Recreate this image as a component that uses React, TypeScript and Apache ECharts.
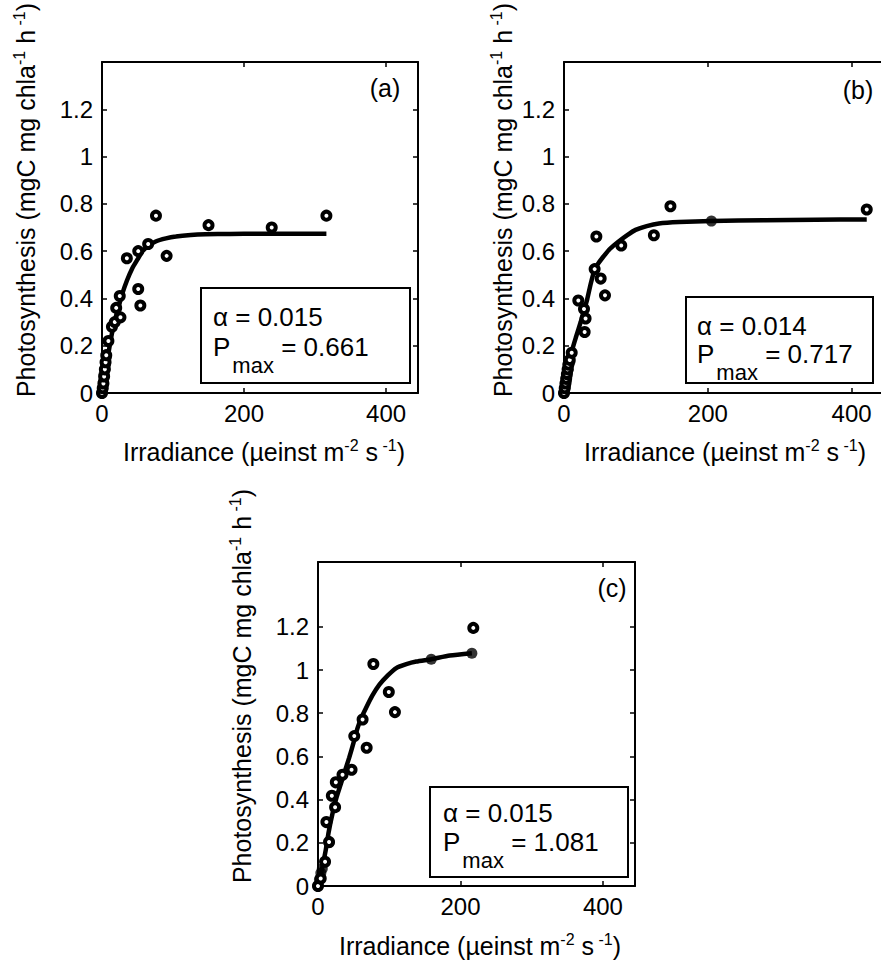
import React, { useEffect, useRef } from "react";
import * as echarts from "echarts";

const FF = '"Liberation Sans", Arial, Helvetica, sans-serif';

// ---------- data ----------
const xTickValues = [0, 200, 400];
const yTickValues = [0, 0.2, 0.4, 0.6, 0.8, 1, 1.2];
const xMax = 445;
const yMaxes = [1.4, 1.4, 1.5];
const panelLabels = ["(a)", "(b)", "(c)"];
const alphaValues = ["0.015", "0.014", "0.015"];
const pmaxValues = ["0.661", "0.717", "1.081"];

// Panel (a)
const aObsI = [0, 1, 2, 3, 4, 5, 6, 9, 14, 18, 20, 25, 26, 35, 51, 51, 54, 65, 76, 91, 150, 239, 316];
const aObsP = [0, 0.02, 0.04, 0.07, 0.1, 0.13, 0.16, 0.22, 0.28, 0.3, 0.36, 0.41, 0.32, 0.57, 0.6, 0.44, 0.37, 0.63, 0.75, 0.58, 0.71, 0.7, 0.75];
const aFitI = [0, 3, 7.5, 12, 17, 23, 28.6, 35, 42.7, 50, 56.8, 65, 75.6, 90, 104, 125, 146, 180, 220, 270, 316];
const aFitP = [0, 0.06, 0.14, 0.22, 0.295, 0.36, 0.42, 0.475, 0.528, 0.565, 0.599, 0.622, 0.641, 0.654, 0.662, 0.668, 0.671, 0.673, 0.674, 0.674, 0.674];
const aDotI = [0, 1, 2, 3, 4, 5, 6];
const aDotP = [0, 0.02, 0.05, 0.08, 0.1, 0.12, 0.15];

// Panel (b)
const bObsI = [0, 1, 2, 3, 4, 5, 6, 8, 10.7, 19.9, 27.8, 30, 28.7, 42.6, 45, 51, 57, 79.6, 125, 148, 421];
const bObsP = [0, 0.02, 0.04, 0.06, 0.08, 0.1, 0.12, 0.14, 0.17, 0.391, 0.355, 0.315, 0.258, 0.524, 0.662, 0.484, 0.413, 0.624, 0.667, 0.79, 0.776];
const bFitI = [0, 5, 11.6, 17, 23, 28, 32.4, 37, 41.7, 47, 53, 64, 76, 88, 99.5, 115, 132, 160, 205, 280, 350, 421];
const bFitP = [0, 0.08, 0.184, 0.24, 0.298, 0.35, 0.398, 0.46, 0.513, 0.545, 0.57, 0.61, 0.641, 0.668, 0.69, 0.706, 0.717, 0.723, 0.727, 0.731, 0.733, 0.734];
const bDotI = [0, 1, 2, 3, 4, 5, 6, 8, 205];
const bDotP = [0, 0.02, 0.03, 0.05, 0.07, 0.09, 0.1, 0.13, 0.727];

// Panel (c)
const cObsI = [0, 3.8, 9.9, 11.8, 15.5, 19.4, 24, 25, 34.4, 47.1, 50.9, 62.6, 68.3, 77.7, 99.4, 108, 218];
const cObsP = [0, 0.035, 0.112, 0.296, 0.204, 0.418, 0.365, 0.48, 0.515, 0.538, 0.694, 0.771, 0.64, 1.028, 0.898, 0.805, 1.195];
const cFitI = [0, 5, 10.8, 15, 20.3, 26, 32, 38, 43.8, 50, 55.6, 61, 67.4, 76, 86.2, 98, 109.8, 124, 138, 159, 185, 216];
const cFitP = [0, 0.07, 0.165, 0.25, 0.334, 0.41, 0.472, 0.535, 0.594, 0.665, 0.732, 0.78, 0.824, 0.88, 0.932, 0.975, 1.009, 1.027, 1.039, 1.05, 1.067, 1.078];
const cDotI = [0, 2, 4, 6, 15.5, 159, 216];
const cDotP = [0, 0.03, 0.06, 0.08, 0.2, 1.05, 1.078];

const zip = (xs: number[], ys: number[]) => xs.map((x, i) => [x, ys[i]]);

const panels = [
  { obs: zip(aObsI, aObsP), fit: zip(aFitI, aFitP), dots: zip(aDotI, aDotP) },
  { obs: zip(bObsI, bObsP), fit: zip(bFitI, bFitP), dots: zip(bDotI, bDotP) },
  { obs: zip(cObsI, cObsP), fit: zip(cFitI, cFitP), dots: zip(cDotI, cDotP) },
];

// ---------- layout ----------
const grids = [
  { left: 102, top: 62, width: 316, height: 331 },
  { left: 564, top: 62, width: 320, height: 331 },
  { left: 318, top: 562, width: 317, height: 324 },
];
// panel (b)'s right border lies beyond the page edge in the reference
const showRightBorder = [true, false, true];
const yTitlePos = [
  [26, 200],
  [503, 200],
  [242, 686],
];
const xTitlePos = [
  [264, 452],
  [725, 452],
  [480, 946],
];
const panelLabelPos = [
  [385, 88],
  [858, 90],
  [612, 588],
];
const legendBoxes = [
  { x: 201, y: 288, w: 209, h: 95, tx: 213, ya: 317, yp: 347, ys: 365 },
  { x: 686, y: 297, w: 187, h: 86, tx: 697, ya: 326, yp: 354, ys: 372 },
  { x: 430, y: 787, w: 198, h: 90, tx: 443, ya: 813, yp: 842, ys: 860 },
];

function measure(text: string, size: number) {
  const ctx = document.createElement("canvas").getContext("2d");
  if (!ctx) return text.length * size * 0.55;
  ctx.font = `${size}px "Liberation Sans"`;
  return ctx.measureText(text).width;
}

const titleRich = {
  n: { fontSize: 25, lineHeight: 30, fontFamily: FF, fill: "#000" },
  s: { fontSize: 16, lineHeight: 18, fontFamily: FF, fill: "#000", verticalAlign: "top" },
};

export default function App() {
  const ref = useRef<HTMLDivElement>(null);

  useEffect(() => {
    document.body.style.margin = "0";
    if (!ref.current) return;
    const chart = echarts.init(ref.current, undefined, { renderer: "svg" });

    const xAxis: any[] = [];
    const yAxis: any[] = [];
    const series: any[] = [];
    const graphic: any[] = [];

    grids.forEach((g, i) => {
      const baseLine = { show: true, onZero: false, lineStyle: { color: "#000", width: 2 } };
      const tickX = { show: true, inside: true, length: 5, lineStyle: { color: "#000", width: 1.5 }, customValues: xTickValues };
      const tickY = { show: true, inside: true, length: 5, lineStyle: { color: "#000", width: 1.5 }, customValues: yTickValues };
      xAxis.push({
        type: "value", gridIndex: i, position: "bottom", min: 0, max: xMax, interval: 200,
        axisLine: baseLine, axisTick: tickX, splitLine: { show: false },
        axisLabel: { show: true, color: "#000", fontSize: 24, fontFamily: FF, margin: 8, customValues: xTickValues },
      });
      xAxis.push({
        type: "value", gridIndex: i, position: "top", min: 0, max: xMax, interval: 200,
        axisLine: baseLine, axisTick: tickX, splitLine: { show: false }, axisLabel: { show: false },
      });
      yAxis.push({
        type: "value", gridIndex: i, position: "left", min: 0, max: yMaxes[i], interval: 0.2,
        axisLine: baseLine, axisTick: tickY, splitLine: { show: false },
        axisLabel: { show: true, color: "#000", fontSize: 24, fontFamily: FF, margin: 9, customValues: yTickValues },
      });
      yAxis.push({
        type: "value", gridIndex: i, position: "right", min: 0, max: yMaxes[i], interval: 0.2,
        axisLine: { ...baseLine, show: showRightBorder[i] },
        axisTick: { ...tickY, show: showRightBorder[i] },
        splitLine: { show: false }, axisLabel: { show: false },
      });

      const p = panels[i];
      series.push({
        type: "line", xAxisIndex: 2 * i, yAxisIndex: 2 * i, data: p.fit,
        showSymbol: false, symbol: "none", smooth: 0.2, clip: false,
        lineStyle: { color: "#000", width: 4.5 }, z: 2,
      });
      series.push({
        type: "scatter", xAxisIndex: 2 * i, yAxisIndex: 2 * i, data: p.dots,
        symbol: "circle", symbolSize: 11, clip: false,
        itemStyle: { color: "#000" }, z: 3,
      });
      series.push({
        type: "scatter", xAxisIndex: 2 * i, yAxisIndex: 2 * i, data: p.obs,
        symbol: "circle", symbolSize: 8, clip: false,
        itemStyle: { color: "#fff", borderColor: "#000", borderWidth: 4, opacity: 1 }, z: 4,
      });

      // axis titles
      graphic.push({
        type: "text", x: yTitlePos[i][0], y: yTitlePos[i][1], rotation: Math.PI / 2,
        style: {
          text: "{n|Photosynthesis (mgC mg chla}{s|-1}{n| h}{s| -1}{n|)}",
          rich: titleRich, align: "center", verticalAlign: "middle",
        },
      });
      graphic.push({
        type: "text", x: xTitlePos[i][0], y: xTitlePos[i][1],
        style: {
          text: "{n|Irradiance (\u00b5einst m}{s|-2}{n| s}{s| -1}{n|)}",
          rich: titleRich, align: "center", verticalAlign: "middle",
        },
      });
      // panel label
      graphic.push({
        type: "text", x: panelLabelPos[i][0], y: panelLabelPos[i][1],
        style: { text: panelLabels[i], fontSize: 25, fontFamily: FF, fill: "#000", align: "center", verticalAlign: "middle" },
      });
      // legend box
      const L = legendBoxes[i];
      graphic.push({
        type: "rect", shape: { x: L.x, y: L.y, width: L.w, height: L.h },
        style: { fill: "#fff", stroke: "#000", lineWidth: 2 }, z: 1,
      });
      graphic.push({
        type: "text", x: L.tx, y: L.ya, z: 2,
        style: { text: `\u03b1 = ${alphaValues[i]}`, fontSize: 26, fontFamily: FF, fill: "#000", align: "left", verticalAlign: "middle" },
      });
      const wP = measure("P", 26);
      const wMax = measure("max", 22);
      graphic.push({
        type: "text", x: L.tx, y: L.yp, z: 2,
        style: { text: "P", fontSize: 26, fontFamily: FF, fill: "#000", align: "left", verticalAlign: "middle" },
      });
      graphic.push({
        type: "text", x: L.tx + wP + 2, y: L.ys, z: 2,
        style: { text: "max", fontSize: 22, fontFamily: FF, fill: "#000", align: "left", verticalAlign: "middle" },
      });
      graphic.push({
        type: "text", x: L.tx + wP + 2 + wMax, y: L.yp, z: 2,
        style: { text: ` = ${pmaxValues[i]}`, fontSize: 26, fontFamily: FF, fill: "#000", align: "left", verticalAlign: "middle" },
      });
    });

    chart.setOption({
      animation: false,
      backgroundColor: "#fff",
      textStyle: { fontFamily: FF, color: "#000" },
      grid: grids.map((g) => ({ ...g, containLabel: false, outerBoundsMode: "none" })),
      xAxis,
      yAxis,
      series,
      graphic: { elements: graphic },
    });

    return () => chart.dispose();
  }, []);

  return <div ref={ref} style={{ width: 881, height: 971 }} />;
}
